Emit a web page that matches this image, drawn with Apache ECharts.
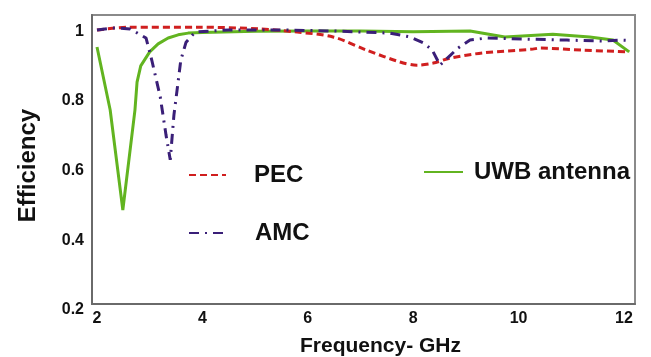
<!DOCTYPE html>
<html>
<head>
<meta charset="utf-8">
<script src="https://cdn.jsdelivr.net/npm/echarts@6/dist/echarts.min.js"></script>
<style>
html,body{margin:0;padding:0;background:#fff;}
#c{width:651px;height:357px;}
</style>
</head>
<body>
<div id="c"></div>
<script>
// ---- data ----
const xTicks = [2, 4, 6, 8, 10, 12];
const yTicks = [0.2, 0.4, 0.6, 0.8, 1];

const pecFreq = [2.0, 2.59, 3.92, 5.09, 5.8, 6.48, 7.12, 7.75, 8.07, 8.38, 8.7, 9.32, 10.27, 10.4, 11.22, 12.1];
const pecEff  = [0.987, 0.995, 0.995, 0.99, 0.981, 0.967, 0.929, 0.895, 0.886, 0.892, 0.906, 0.921, 0.932, 0.935, 0.929, 0.924];

const amcFreq = [2.0, 2.3, 2.63, 2.93, 3.04, 3.2, 3.31, 3.39, 3.46, 3.52, 3.59, 3.69, 3.86, 4.5, 5.5, 6.5, 7.56, 7.94, 8.19, 8.36, 8.51, 8.85, 9.08, 9.4, 10.08, 10.92, 11.6, 11.96, 12.1];
const amcEff  = [0.987, 0.993, 0.99, 0.964, 0.9, 0.795, 0.685, 0.614, 0.743, 0.815, 0.9, 0.952, 0.981, 0.987, 0.987, 0.984, 0.978, 0.967, 0.95, 0.93, 0.886, 0.935, 0.958, 0.964, 0.961, 0.958, 0.955, 0.958, 0.957];

const uwbFreq = [2.0, 2.25, 2.49, 2.72, 2.76, 2.83, 3.0, 3.16, 3.35, 3.54, 3.73, 4.0, 5.0, 6.0, 7.0, 8.0, 9.08, 9.74, 10.65, 11.35, 11.79, 12.1];
const uwbEff  = [0.938, 0.757, 0.47, 0.757, 0.837, 0.884, 0.924, 0.947, 0.964, 0.973, 0.978, 0.98, 0.983, 0.984, 0.984, 0.982, 0.984, 0.967, 0.975, 0.967, 0.958, 0.924];

const zip = (a, b) => a.map((v, i) => [v, b[i]]);

const FONT = '"Liberation Sans", Arial, sans-serif';
const chart = echarts.init(document.getElementById('c'), null, {renderer: 'canvas'});

const legendText = (pad) => ({
  fontFamily: FONT, fontWeight: 'bold', fontSize: 24, color: '#111',
  padding: [0, 0, 0, pad], lineHeight: 28
});

chart.setOption({
  animation: false,
  backgroundColor: '#fff',
  grid: {left: 92, top: 15, width: 543, height: 289, show: true, outerBoundsMode: 'none', containLabel: false,
         borderColor: '#8a8a8a', borderWidth: 2, backgroundColor: 'transparent'},
  legend: [
    {data: ['PEC'], left: 188, top: 161, padding: 0, itemWidth: 37, itemHeight: 10,
     itemStyle: {opacity: 0}, textStyle: legendText(23)},
    {data: ['AMC'], left: 188, top: 219, padding: 0, itemWidth: 40, itemHeight: 10,
     itemStyle: {opacity: 0}, textStyle: legendText(21)},
    {data: ['UWB antenna'], left: 423, top: 158, padding: 0, itemWidth: 39, itemHeight: 10,
     itemStyle: {opacity: 0}, textStyle: legendText(6)}
  ],
  xAxis: {
    type: 'value', min: 1.905, max: 12.21,
    name: 'Frequency- GHz', nameLocation: 'middle', nameGap: 32,
    nameTextStyle: {fontFamily: FONT, fontWeight: 'bold', fontSize: 21, color: '#111', padding: [0, 0, 0, 34]},
    axisLine: {show: true, lineStyle: {color: '#6a6a6a', width: 2}},
    axisTick: {show: false},
    splitLine: {show: false},
    axisLabel: {customValues: xTicks, margin: 7, fontFamily: FONT, fontWeight: 'bold', fontSize: 16, color: '#111'}
  },
  yAxis: {
    type: 'value', min: 0.2, max: 1.03,
    name: 'Efficiency', nameLocation: 'middle', nameGap: 52,
    nameTextStyle: {fontFamily: FONT, fontWeight: 'bold', fontSize: 24, color: '#111', padding: [0, 12, 0, 0]},
    axisLine: {show: true, lineStyle: {color: '#6a6a6a', width: 2}},
    axisTick: {show: false},
    splitLine: {show: false},
    axisLabel: {customValues: yTicks, margin: 8, fontFamily: FONT, fontWeight: 'bold', fontSize: 16, color: '#111',
                verticalAlign: 'top', lineHeight: 12,
                formatter: v => (v === 1 ? '1' : v.toFixed(1))}
  },
  series: [
    {name: 'PEC', type: 'line', data: zip(pecFreq, pecEff), symbol: 'none', smooth: 0.3, z: 3,
     color: '#d01f1f', lineStyle: {color: '#d01f1f', width: 3, type: [7, 4]}},
    {name: 'AMC', type: 'line', data: zip(amcFreq, amcEff), symbol: 'none', smooth: false, z: 4,
     color: '#3a1f78', lineStyle: {color: '#3a1f78', width: 3, type: [10, 6, 2, 6]}},
    {name: 'UWB antenna', type: 'line', data: zip(uwbFreq, uwbEff), symbol: 'none', smooth: false, z: 2,
     color: '#62b420', lineStyle: {color: '#62b420', width: 3}}
  ]
});
</script>
</body>
</html>
